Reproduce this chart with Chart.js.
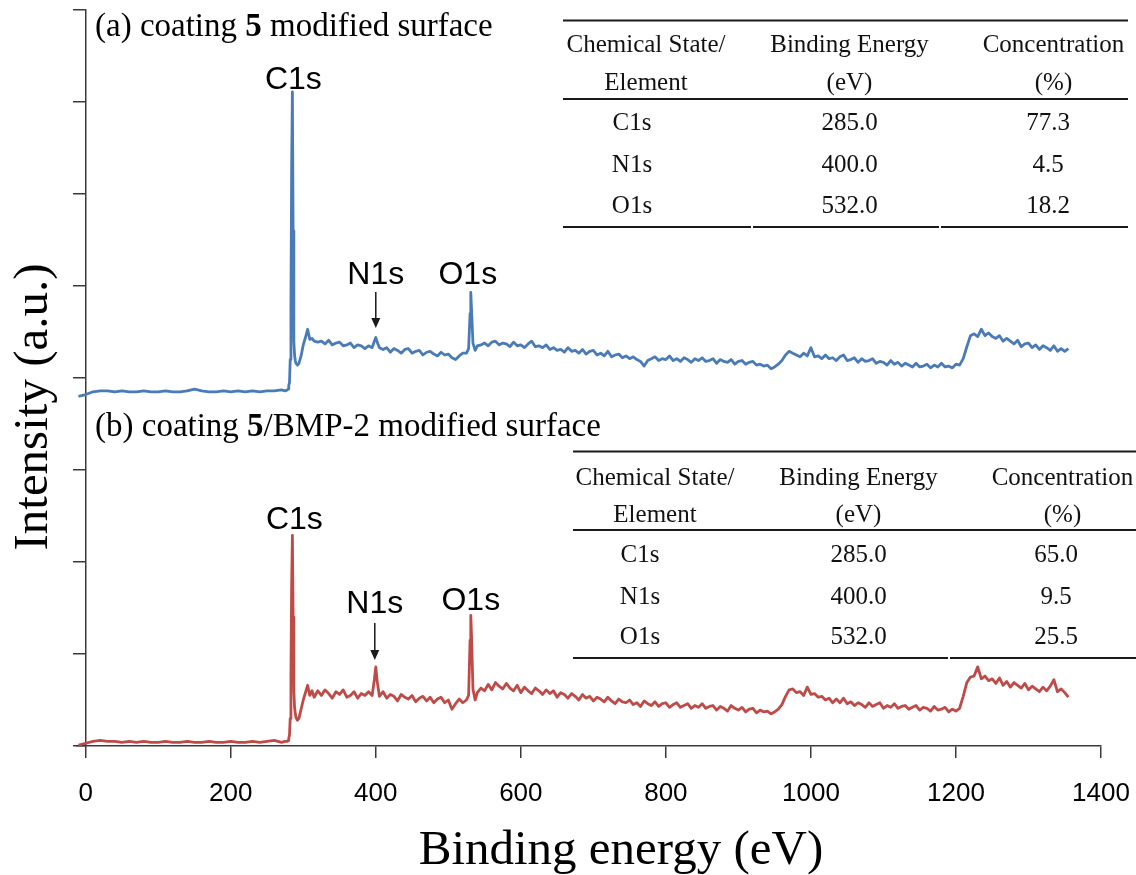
<!DOCTYPE html>
<html>
<head>
<meta charset="utf-8">
<script src="https://cdn.jsdelivr.net/npm/chart.js@4.4.1/dist/chart.umd.min.js"></script>
<style>
  html, body { margin: 0; padding: 0; background: #fff; }
  #wrap { width: 1136px; height: 875px; position: relative; }
</style>
</head>
<body>
<div id="wrap"><canvas id="c" width="1136" height="875"></canvas></div>
<script>
// ---------------- DATA ----------------
const xTickValues = [0, 200, 400, 600, 800, 1000, 1200, 1400];
const yTickValues = [0, 1, 2, 3, 4, 5, 6, 7, 8];

// Binding energy (eV) sample positions
const energy = [
  -10,0,10,20,30,40,50,60,70,80,90,100,110,120,130,140,150,160,170,180,190,200,210,220,230,240,250,260,270,
  275,
  278,279,280,281,282,283,284,285,286,287,288,289,290,292,294,297,300,303,306,309,312,315,
  320,325,330,335,340,345,350,355,360,365,370,375,380,385,390,395,
  398,400,402,405,
  410,415,420,425,430,435,440,445,450,455,460,465,470,475,480,485,490,495,500,505,510,515,520,525,
  528,530,531,532,534,537,540,
  545,550,555,560,565,570,575,580,585,590,595,600,605,610,615,620,625,630,635,640,
  645,650,655,660,665,670,675,680,685,690,695,700,705,710,715,720,725,730,735,740,
  745,750,755,760,765,770,775,780,785,790,795,800,805,810,815,820,825,830,835,840,
  845,850,855,860,865,870,875,880,885,890,895,900,905,910,915,920,925,930,935,940,
  945,950,955,960,965,970,975,980,985,990,995,1000,1005,1010,1015,1020,1025,1030,1035,1040,
  1045,1050,1055,1060,1065,1070,1075,1080,1085,1090,1095,1100,1105,1110,1115,1120,1125,1130,1135,1140,
  1145,1150,1155,1160,1165,1170,1175,1180,1185,1190,1195,1200,1205,1210,1215,1220,1225,1230,1235,1240,
  1245,1250,1255,1260,1265,1270,1275,1280,1285,1290,1295,1300,1305,1310,1315,1320,1325,1330,1335,1340,
  1345,1350,1355
];

// (a) coating 5 modified surface (offset spectrum, a.u.)
const intensityA = [
  3.80,3.82,3.85,3.86,3.86,3.85,3.86,3.85,3.85,3.86,3.85,3.85,3.86,3.85,3.85,3.86,3.88,3.86,3.85,3.85,3.86,3.85,3.86,3.85,3.86,3.85,3.86,3.86,3.87,
  3.86,
  3.87,3.88,3.92,3.95,4.20,4.80,6.30,7.11,5.60,4.40,4.25,4.19,4.16,4.14,4.16,4.24,4.36,4.44,4.53,4.42,4.43,4.40,
  4.39,4.40,4.37,4.41,4.36,4.38,4.39,4.35,4.36,4.38,4.33,4.36,4.35,4.32,4.35,4.33,
  4.40,4.44,4.39,4.33,
  4.31,4.33,4.28,4.32,4.30,4.27,4.31,4.32,4.27,4.29,4.30,4.25,4.28,4.29,4.26,4.24,4.28,4.25,4.26,4.22,4.20,4.24,4.27,4.27,
  4.32,4.70,4.93,4.75,4.38,4.30,4.35,
  4.36,4.38,4.35,4.39,4.40,4.36,4.38,4.37,4.34,4.39,4.35,4.36,4.33,4.37,4.40,4.34,4.35,4.33,4.36,4.31,
  4.33,4.30,4.31,4.28,4.33,4.29,4.30,4.27,4.31,4.26,4.29,4.30,4.25,4.27,4.24,4.29,4.23,4.25,4.26,4.22,
  4.24,4.21,4.23,4.20,4.18,4.13,4.19,4.21,4.23,4.19,4.21,4.20,4.24,4.19,4.21,4.18,4.22,4.20,4.17,4.21,
  4.19,4.22,4.18,4.19,4.21,4.16,4.20,4.18,4.17,4.20,4.15,4.18,4.19,4.15,4.17,4.18,4.14,4.15,4.13,4.14,
  4.10,4.12,4.15,4.19,4.25,4.29,4.27,4.25,4.23,4.27,4.24,4.33,4.23,4.24,4.21,4.25,4.21,4.22,4.19,4.23,
  4.25,4.19,4.20,4.22,4.17,4.21,4.18,4.19,4.21,4.16,4.18,4.17,4.14,4.19,4.15,4.17,4.13,4.16,4.14,4.12,
  4.16,4.12,4.13,4.15,4.11,4.14,4.12,4.16,4.12,4.13,4.11,4.15,4.14,4.21,4.34,4.46,4.48,4.45,4.53,4.46,
  4.49,4.45,4.43,4.46,4.40,4.43,4.40,4.37,4.41,4.34,4.37,4.38,4.33,4.36,4.31,4.35,4.33,4.30,4.35,4.29,
  4.32,4.29,4.32
];

// (b) coating 5/BMP-2 modified surface (a.u.)
const intensityB = [
  0.01,0.03,0.05,0.06,0.05,0.05,0.04,0.05,0.04,0.05,0.04,0.04,0.05,0.04,0.04,0.05,0.04,0.04,0.05,0.04,0.04,0.05,0.04,0.04,0.05,0.04,0.05,0.06,0.04,
  0.05,
  0.05,0.06,0.08,0.12,0.30,0.75,1.75,2.29,1.40,0.60,0.42,0.35,0.31,0.28,0.30,0.40,0.50,0.58,0.66,0.55,0.60,0.53,
  0.60,0.55,0.61,0.57,0.52,0.59,0.56,0.61,0.53,0.55,0.59,0.52,0.57,0.55,0.59,0.55,
  0.72,0.86,0.70,0.54,
  0.59,0.52,0.56,0.54,0.49,0.56,0.53,0.51,0.55,0.48,0.52,0.54,0.49,0.53,0.47,0.51,0.53,0.47,0.50,0.40,0.46,0.51,0.47,0.50,
  0.55,1.15,1.42,1.20,0.62,0.50,0.58,
  0.63,0.60,0.67,0.61,0.69,0.65,0.62,0.68,0.63,0.60,0.66,0.58,0.64,0.60,0.57,0.63,0.60,0.56,0.61,0.57,
  0.60,0.53,0.58,0.56,0.52,0.57,0.54,0.50,0.56,0.52,0.54,0.49,0.53,0.51,0.48,0.53,0.49,0.46,0.51,0.48,
  0.47,0.50,0.45,0.47,0.43,0.49,0.46,0.44,0.48,0.43,0.46,0.47,0.42,0.45,0.47,0.42,0.44,0.46,0.41,0.44,
  0.42,0.46,0.41,0.43,0.44,0.39,0.43,0.41,0.38,0.44,0.41,0.39,0.42,0.37,0.40,0.41,0.36,0.39,0.37,0.38,
  0.35,0.37,0.40,0.45,0.54,0.61,0.62,0.58,0.59,0.55,0.64,0.56,0.57,0.53,0.54,0.50,0.52,0.47,0.51,0.47,
  0.52,0.46,0.48,0.44,0.47,0.45,0.42,0.47,0.43,0.45,0.47,0.41,0.44,0.42,0.46,0.41,0.43,0.44,0.40,0.42,
  0.44,0.39,0.42,0.41,0.38,0.43,0.39,0.40,0.42,0.37,0.40,0.38,0.41,0.54,0.69,0.75,0.76,0.86,0.73,0.76,
  0.71,0.73,0.68,0.74,0.66,0.70,0.64,0.69,0.66,0.63,0.68,0.61,0.65,0.62,0.59,0.64,0.60,0.65,0.72,0.59,
  0.62,0.58,0.53
];

// Peak annotations
const peakNames = ['C1s', 'N1s', 'O1s'];
const peakEnergies = [285, 400, 531];

// Tables
const tableHeader1 = ['Chemical State/', 'Binding Energy', 'Concentration'];
const tableHeader2 = ['Element', '(eV)', '(%)'];
const tableElements = ['C1s', 'N1s', 'O1s'];
const tableEnergies = ['285.0', '400.0', '532.0'];
const concentrationA = ['77.3', '4.5', '18.2'];
const concentrationB = ['65.0', '9.5', '25.5'];

const panelTitleA = [['(a) coating ', false], ['5', true], [' modified surface', false]];
const panelTitleB = [['(b) coating ', false], ['5', true], ['/BMP-2 modified surface', false]];
const xAxisTitle = 'Binding energy (eV)';
const yAxisTitle = 'Intensity (a.u.)';

// ---------------- DRAWING ----------------
const SERIF = '"Liberation Serif", "Times New Roman", serif';
const SANS = '"Liberation Sans", Arial, sans-serif';

function drawRich(ctx, x, y, parts, size) {
  ctx.textAlign = 'left';
  ctx.textBaseline = 'alphabetic';
  let cx = x;
  for (const [t, bold] of parts) {
    ctx.font = (bold ? 'bold ' : '') + size + 'px ' + SERIF;
    ctx.fillText(t, cx, y);
    cx += ctx.measureText(t).width;
  }
}

function drawTable(ctx, t, conc) {
  ctx.strokeStyle = '#1a1a1a';
  ctx.lineWidth = 2;
  const hl = (y, x1, x2) => { ctx.beginPath(); ctx.moveTo(x1, y); ctx.lineTo(x2, y); ctx.stroke(); };
  hl(t.top, t.x1, t.x2);
  hl(t.mid, t.x1, t.x2);
  for (const [a, b] of t.bottomSegs) hl(t.bottom, a, b);
  ctx.fillStyle = '#111';
  ctx.font = '25px ' + SERIF;
  ctx.textAlign = 'center';
  ctx.textBaseline = 'middle';
  for (let i = 0; i < 3; i++) {
    ctx.fillText(tableHeader1[i], t.headCols[i], t.h1);
    ctx.fillText(tableHeader2[i], t.headCols[i], t.h2);
  }
  for (let r = 0; r < 3; r++) {
    ctx.fillText(tableElements[r], t.dataCols[0], t.rows[r]);
    ctx.fillText(tableEnergies[r], t.dataCols[1], t.rows[r]);
    ctx.fillText(conc[r], t.dataCols[2], t.rows[r]);
  }
}

function drawArrow(ctx, x, y1, y2) {
  ctx.strokeStyle = '#1a1a1a';
  ctx.fillStyle = '#1a1a1a';
  ctx.lineWidth = 1.5;
  ctx.beginPath(); ctx.moveTo(x, y1); ctx.lineTo(x, y2 - 8); ctx.stroke();
  ctx.beginPath(); ctx.moveTo(x - 4.5, y2 - 10); ctx.lineTo(x + 4.5, y2 - 10); ctx.lineTo(x, y2); ctx.closePath(); ctx.fill();
}

const overlay = {
  id: 'overlay',
  afterDraw(chart) {
    const ctx = chart.ctx;
    const xs = chart.scales.x;
    ctx.save();
    ctx.fillStyle = '#000';
    drawRich(ctx, 95, 36, panelTitleA, 33);
    drawRich(ctx, 95, 436, panelTitleB, 33);

    // peak labels
    ctx.font = '32px ' + SANS;
    ctx.textAlign = 'center';
    ctx.textBaseline = 'alphabetic';
    ctx.fillStyle = '#000';
    const baseA = [89, 284, 284];
    const baseB = [529, 613, 610];
    const dxA = [1, 0, -3];
    const dxB = [2, -1, 0];
    for (let i = 0; i < 3; i++) {
      const px = xs.getPixelForValue(peakEnergies[i]);
      ctx.fillText(peakNames[i], px + dxA[i], baseA[i]);
      ctx.fillText(peakNames[i], px + dxB[i], baseB[i]);
    }
    const pN = xs.getPixelForValue(peakEnergies[1]);
    drawArrow(ctx, pN, 292, 328);
    drawArrow(ctx, pN - 1, 623, 660);

    drawTable(ctx, {
      top: 20.5, mid: 99, bottom: 227, x1: 563, x2: 1128,
      bottomSegs: [[563, 751], [753, 939], [941, 1128]],
      h1: 45, h2: 83, rows: [123, 165, 206],
      headCols: [646, 849.5, 1053.5], dataCols: [632, 849.5, 1048]
    }, concentrationA);
    drawTable(ctx, {
      top: 451.5, mid: 530, bottom: 658, x1: 573, x2: 1136,
      bottomSegs: [[573, 948], [950, 1136]],
      h1: 478, h2: 515, rows: [555, 597, 637],
      headCols: [655, 858.5, 1062.5], dataCols: [640, 858.5, 1056]
    }, concentrationB);

    // axis titles
    ctx.fillStyle = '#000';
    ctx.font = '49px ' + SERIF;
    ctx.textAlign = 'center';
    ctx.textBaseline = 'alphabetic';
    ctx.fillText(xAxisTitle, 621, 864);
    ctx.save();
    ctx.translate(47, 407);
    ctx.rotate(-Math.PI / 2);
    ctx.fillText(yAxisTitle, 0, 0);
    ctx.restore();
    ctx.restore();
  }
};

const AXIS = '#3a3a3a';
const ctx = document.getElementById('c').getContext('2d');
new Chart(ctx, {
  type: 'line',
  data: {
    datasets: [
      {
        label: 'coating 5',
        data: energy.map((e, i) => ({ x: e, y: intensityA[i] })),
        borderColor: '#4a7bb7', borderWidth: 2.8, borderJoinStyle: 'round', pointRadius: 0, tension: 0, fill: false
      },
      {
        label: 'coating 5/BMP-2',
        data: energy.map((e, i) => ({ x: e, y: intensityB[i] })),
        borderColor: '#be4b48', borderWidth: 2.8, borderJoinStyle: 'round', pointRadius: 0, tension: 0, fill: false
      }
    ]
  },
  options: {
    responsive: false,
    animation: false,
    layout: { padding: { left: 77, right: 35, top: 10, bottom: 0 } },
    plugins: { legend: { display: false }, tooltip: { enabled: false }, title: { display: false } },
    scales: {
      x: {
        type: 'linear', min: -12, max: 1400,
        afterBuildTicks: s => { s.ticks = xTickValues.map(v => ({ value: v })); },
        afterFit: s => { s.height = 129; },
        grid: { display: true, drawOnChartArea: false, drawTicks: true, tickLength: 12, color: AXIS, lineWidth: 1.5 },
        border: { display: true, color: AXIS, width: 1.5 },
        ticks: { color: '#000', font: { family: SANS, size: 26, lineHeight: 2.5 }, padding: 3, maxRotation: 0, autoSkip: false, callback: v => String(v) }
      },
      y: {
        type: 'linear', min: 0, max: 8,
        position: { x: 0 },
        afterBuildTicks: s => { s.ticks = yTickValues.map(v => ({ value: v })); },
        grid: { display: true, drawOnChartArea: false, drawTicks: true, tickLength: 12, color: AXIS, lineWidth: 1.5 },
        border: { display: true, color: AXIS, width: 1.5 },
        ticks: { display: false }
      }
    }
  },
  plugins: [overlay]
});
</script>
</body>
</html>
